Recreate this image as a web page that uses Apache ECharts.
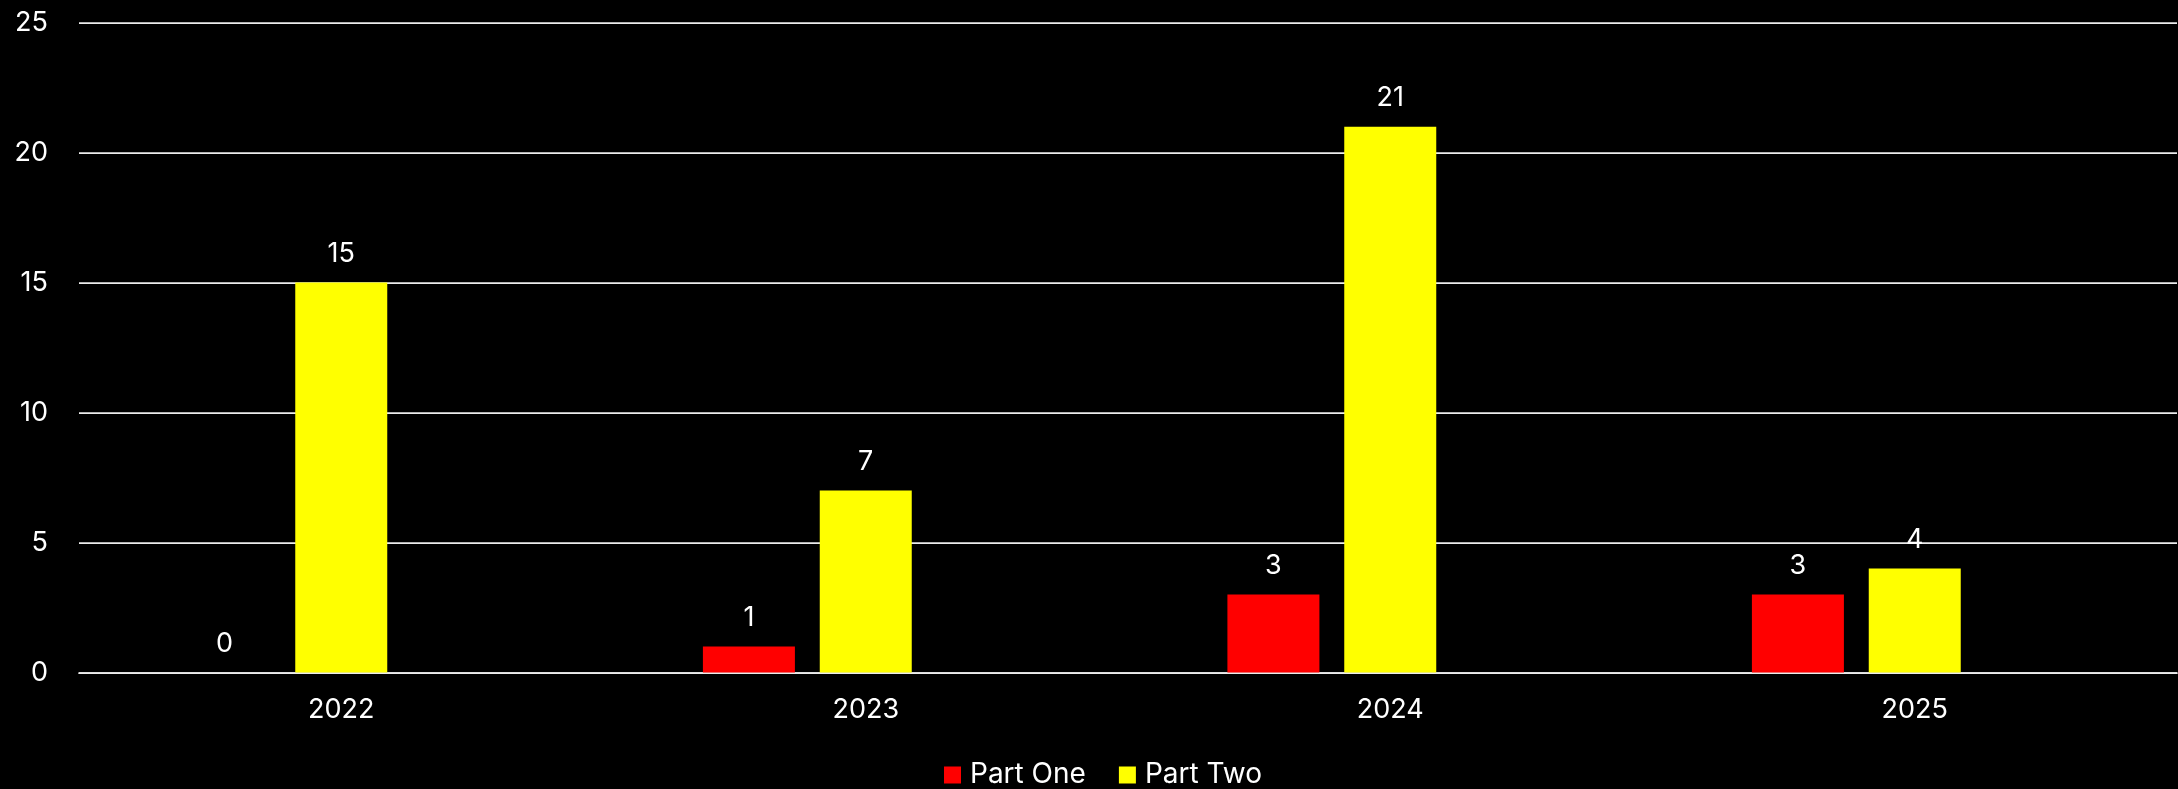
<!DOCTYPE html>
<html>
<head>
<meta charset="utf-8">
<script src="https://cdn.jsdelivr.net/npm/echarts@6/dist/echarts.min.js"></script>
<style>
html,body{margin:0;padding:0;background:#000;}
#chart{width:2178px;height:789px;}
</style>
</head>
<body>
<div id="chart"></div>
<script>
const categories = ['2022', '2023', '2024', '2025'];
const partOne = [0, 1, 3, 3];
const partTwo = [15, 7, 21, 4];
const emptySeries = [null, null, null, null];
const yTicks = { min: 0, max: 25, interval: 5 };

const FONT = 'Inter';
const chart = echarts.init(document.getElementById('chart'), null, { renderer: 'canvas' });

const labelStyle = {
  show: true,
  position: 'top',
  distance: 15,
  color: '#ffffff',
  fontSize: 27,
  fontFamily: FONT
};

chart.setOption({
  backgroundColor: '#000000',
  animation: false,
  textStyle: { fontFamily: FONT },
  grid: { left: 79, right: 1, top: 22.7, bottom: 116.5, containLabel: false, outerBoundsMode: 'none' },
  legend: {
    data: ['Part One', 'Part Two'],
    left: 944,
    top: 761,
    padding: 0,
    itemWidth: 17,
    itemHeight: 17,
    itemGap: 33,
    icon: 'rect',
    textStyle: { color: '#ffffff', fontSize: 28, fontFamily: FONT, padding: [0, 0, 0, 4] }
  },
  xAxis: {
    type: 'category',
    data: categories,
    axisTick: { show: false },
    axisLine: { show: true, lineStyle: { color: '#ececec', width: 1.75 } },
    axisLabel: { color: '#ffffff', fontSize: 27, fontFamily: FONT, margin: 24 }
  },
  yAxis: {
    type: 'value',
    min: yTicks.min,
    max: yTicks.max,
    interval: yTicks.interval,
    axisLine: { show: false },
    axisTick: { show: false },
    axisLabel: { color: '#ffffff', fontSize: 27, fontFamily: FONT, margin: 31 },
    splitLine: { show: true, lineStyle: { color: '#ececec', width: 1.75 } }
  },
  series: [
    { name: 'Part One', type: 'bar', data: partOne, barWidth: 92, barGap: '27%',
      itemStyle: { color: '#ff0000' }, label: labelStyle },
    { name: 'Part Two', type: 'bar', data: partTwo, barWidth: 92, barGap: '27%',
      itemStyle: { color: '#ffff00' }, label: labelStyle },
    { name: 'Series3', type: 'bar', data: emptySeries, barWidth: 92, barGap: '27%',
      itemStyle: { color: '#4472c4' } }
  ]
});
</script>
</body>
</html>
